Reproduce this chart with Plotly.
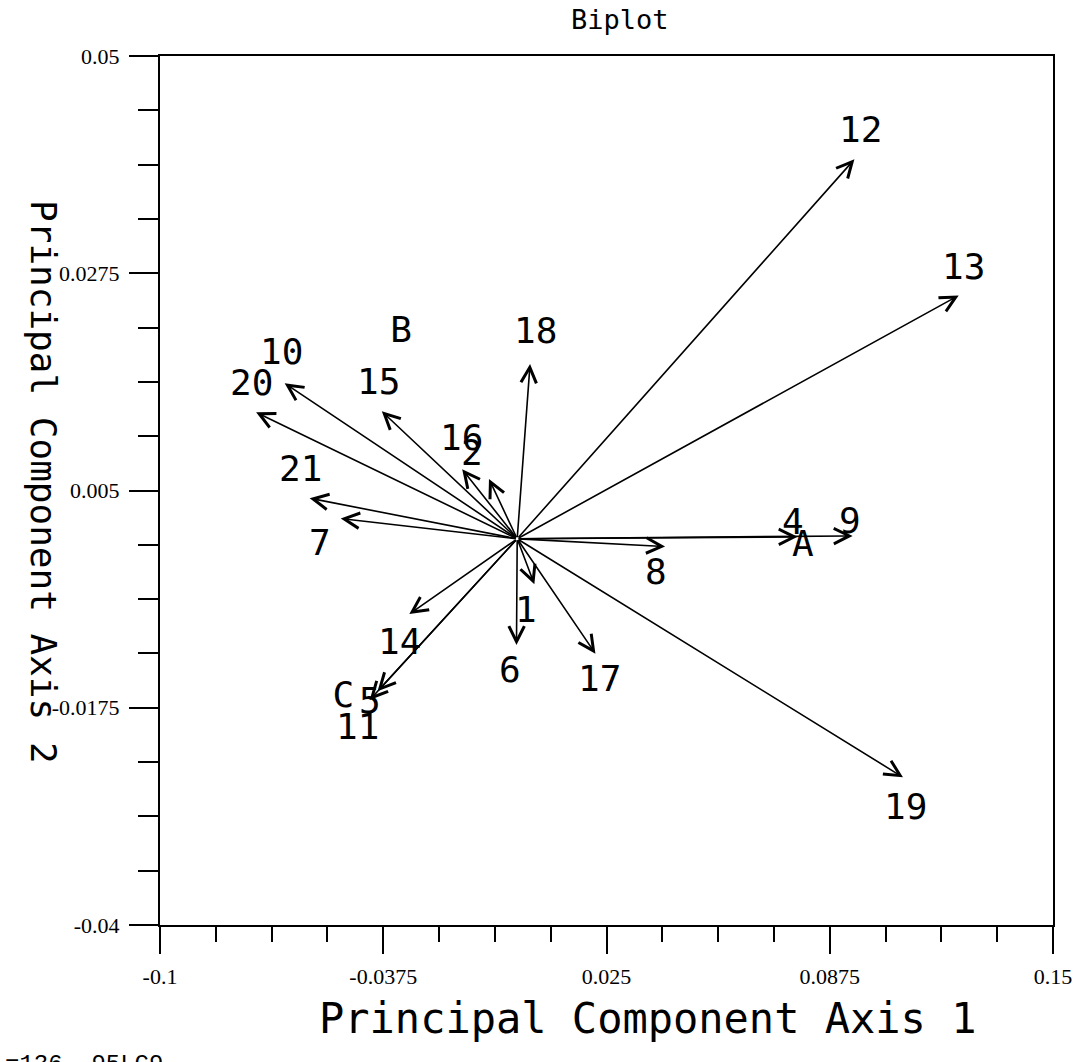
import plotly.graph_objects as go

# ---- data ----
variables = ["1", "2", "4", "5", "6", "7", "8", "9", "10", "11", "12",
             "13", "14", "15", "16", "17", "18", "19", "20", "21"]
pc1 = [0.0048, -0.0079, 0.0785, -0.0413, -0.0002, -0.0494, 0.0414, 0.0939,
       -0.0651, -0.0391, 0.0944, 0.1236, -0.0302, -0.0379, -0.0154, 0.0219,
       0.0036, 0.1080, -0.0731, -0.0581]
pc2 = [-0.0047, 0.0062, 0.0002, -0.0167, -0.0110, 0.0021, -0.0008, 0.0003,
       0.0161, -0.0158, 0.0393, 0.0252, -0.0078, 0.0132, 0.0072, -0.0119,
       0.0181, -0.0247, 0.0131, 0.0042]

groups = ["A", "B", "C"]
group_pc1 = [0.0800, -0.0325, -0.0487]
group_pc2 = [-0.0009, 0.0213, -0.0165]

x_tickvals = [-0.1, -0.0375, 0.025, 0.0875, 0.15]
x_ticktext = ["-0.1", "-0.0375", "0.025", "0.0875", "0.15"]
y_tickvals = [0.05, 0.0275, 0.005, -0.0175, -0.04]
y_ticktext = ["0.05", "0.0275", "0.005", "-0.0175", "-0.04"]

# ---- style (label pixel offsets from arrow tips) ----
label_shift = {
    "1": (-8, -25), "2": (-17, 26), "4": (-5, 15), "5": (0, 0), "6": (-6, -25),
    "7": (-21, -24), "8": (-9, -25), "9": (-3, 15), "10": (-3, 32),
    "11": (-20, -35), "12": (6, 30), "13": (5, 29), "14": (-10, -27),
    "15": (-3, 30), "16": (-1, 32), "17": (4, -25), "18": (5, 34),
    "19": (3, -29), "20": (-5, 30), "21": (-9, 30),
}

MONO = "DejaVu Sans Mono"
SERIF = "Liberation Serif"

fig = go.Figure()
fig.add_trace(go.Scatter(x=group_pc1, y=group_pc2, mode="text", text=groups,
                         textfont=dict(family=MONO, size=36, color="black"),
                         hoverinfo="skip", showlegend=False))

annotations = []
for name, x, y in zip(variables, pc1, pc2):
    annotations.append(dict(x=x, y=y, ax=0, ay=0, xref="x", yref="y",
                            axref="x", ayref="y", text="", showarrow=True,
                            arrowhead=5, arrowsize=1.9, arrowwidth=1.6,
                            arrowcolor="black", standoff=0, startstandoff=0))
    sx, sy = label_shift[name]
    annotations.append(dict(x=x, y=y, xref="x", yref="y", text=name,
                            showarrow=False, xshift=sx, yshift=sy,
                            font=dict(family=MONO, size=36, color="black")))

L, R, T, B = 160, 16, 56, 137
W, H = 1084, 1062
pw, ph = W - L - R, H - T - B

def px(xp):
    return (xp - L) / pw

def py(yp):
    return (H - B - yp) / ph

annotations += [
    dict(text="Biplot", xref="paper", yref="paper", x=px(628), y=py(19),
         xanchor="center", yanchor="middle", showarrow=False,
         font=dict(family=MONO, size=27, color="black")),
    dict(text="Principal Component Axis 1", xref="paper", yref="paper",
         x=px(656), y=py(1018), xanchor="center", yanchor="middle",
         showarrow=False, font=dict(family=MONO, size=42, color="black")),
    dict(text="Principal Component Axis 2", xref="paper", yref="paper",
         x=px(42), y=py(482), xanchor="center", yanchor="middle",
         showarrow=False, textangle=90,
         font=dict(family=MONO, size=36, color="black")),
    dict(text="=136  95LC9", xref="paper", yref="paper", x=px(0), y=py(1049),
         xanchor="left", yanchor="top", showarrow=False,
         font=dict(family="Liberation Mono", size=24, color="black")),
]

fig.update_layout(
    width=W, height=H,
    margin=dict(l=L, r=R, t=T, b=B),
    paper_bgcolor="white", plot_bgcolor="white",
    showlegend=False,
    annotations=annotations,
    xaxis=dict(range=[-0.1, 0.15], tickvals=x_tickvals, ticktext=x_ticktext,
               ticks="outside", ticklen=27, tickwidth=2, tickcolor="black",
               showgrid=False, zeroline=False, showline=True, linewidth=2,
               linecolor="black", mirror=True, ticklabelstandoff=4,
               ticklabeloverflow="allow",
               tickfont=dict(family=SERIF, size=22, color="black"),
               minor=dict(tick0=-0.1, dtick=0.015625, ticks="outside",
                          ticklen=15, tickwidth=2, tickcolor="black",
                          showgrid=False)),
    yaxis=dict(range=[-0.04, 0.05], tickvals=y_tickvals, ticktext=y_ticktext,
               ticks="outside", ticklen=29, tickwidth=2, tickcolor="black",
               showgrid=False, zeroline=False, showline=True, linewidth=2,
               linecolor="black", mirror=True, ticklabelstandoff=5,
               ticklabeloverflow="allow",
               tickfont=dict(family=SERIF, size=22, color="black"),
               minor=dict(tick0=-0.04, dtick=0.005625, ticks="outside",
                          ticklen=20, tickwidth=2, tickcolor="black",
                          showgrid=False)),
)

fig.write_html("out.html")
